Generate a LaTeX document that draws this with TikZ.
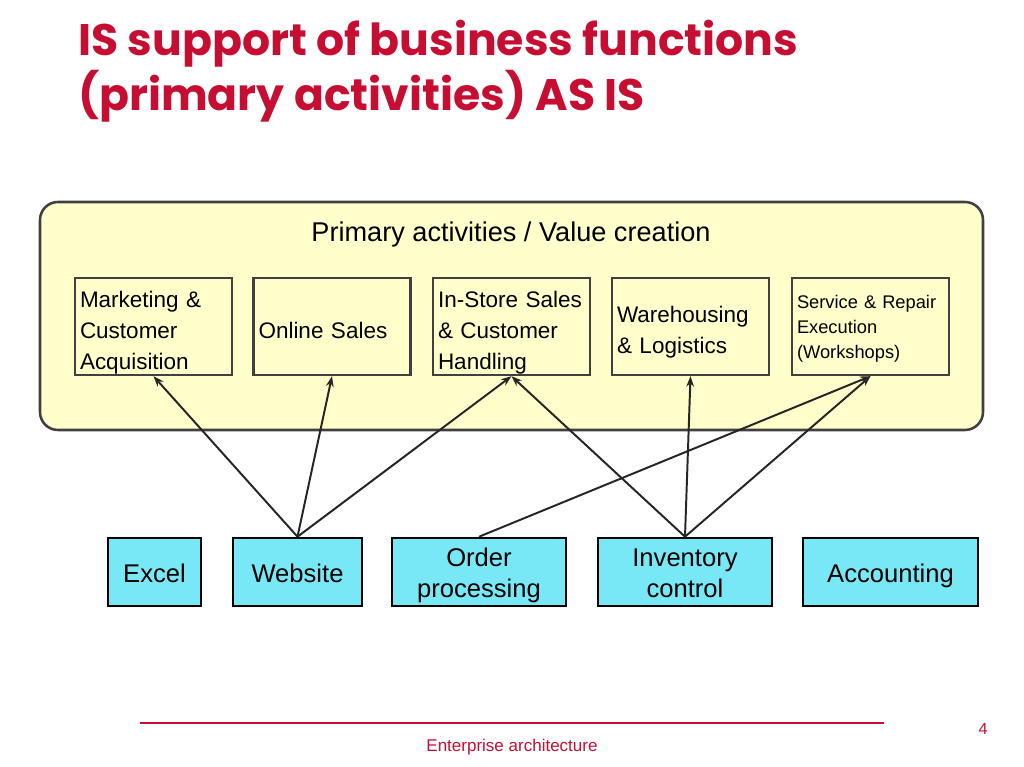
\documentclass[tikz,border=0pt]{standalone}
\usepackage{fontspec}
\setmainfont{Liberation Sans}
\newfontfamily\titlefont{Poppins}
\usepackage{xcolor}
\definecolor{crimson}{RGB}{198, 14, 50}
\definecolor{cream}{RGB}{255, 255, 204}
\definecolor{frame}{RGB}{64, 64, 64}
\definecolor{sky}{RGB}{120, 232, 246}
\usepackage{tikz}
\usetikzlibrary{arrows.meta}

\begin{document}
\begin{tikzpicture}[>={Stealth[length=7.5pt,width=5.5pt]},
    activity/.style={draw=frame, line width=1.7pt, fill=cream, minimum width=3.925cm,
      minimum height=2.425cm, text width=3.675cm, inner xsep=0.125cm, inner ysep=0pt,
      align=left, text height=16.5pt, font=\fontsize{16}{22}\selectfont},
    system/.style={draw=black, line width=1.8pt, fill=sky, minimum height=1.7cm,
      align=center, inner sep=0pt, text depth=0pt, font=\fontsize{18.2}{22}\selectfont},
    link/.style={->, line width=1.4pt, black!85}]
    \useasboundingbox (0,0) rectangle (25.6,19.175);

    % Title
    \node[anchor=north west, align=left, text=crimson, inner sep=0pt,
      font=\titlefont\bfseries\fontsize{31.4}{39}\selectfont] (title) at (1.95,18.675)
      {IS support of business functions\\(primary activities) AS IS};

    % Primary activities
    \draw[frame, fill=cream, line width=1.8pt, rounded corners=0.45cm] (1.0,8.425) rectangle (24.575,14.125);
    \node[font=\fontsize{19.3}{22}\selectfont] (header) at (12.775,13.325) {Primary activities / Value creation};

    \node[activity, text depth=44pt] (marketing) at (3.8375,11.0125) {Marketing \&\\Customer\\Acquisition};
    \node[activity, text depth=0pt] (online) at (8.3,11.0125) {Online Sales};
    \node[activity, text depth=44pt] (instore) at (12.7875,11.0125) {In-Store Sales\\\& Customer\\Handling};
    \node[activity, text depth=22pt] (warehouse) at (17.2625,11.0125) {Warehousing\\\& Logistics};
    \node[activity, text height=10pt, text depth=35.6pt, font=\fontsize{13}{17.8}\selectfont] (service) at (21.7625,11.0125)
      {Service \& Repair\\Execution\\(Workshops)};

    % Information systems
    \node[system, text height=14.4pt, minimum width=2.325cm] (excel) at (3.8625,4.875) {Excel};
    \node[system, text height=14.4pt, minimum width=3.225cm] (website) at (7.4375,4.875) {Website};
    \node[system, text height=36.4pt, minimum width=4.35cm] (order) at (11.975,4.875) {Order\\processing};
    \node[system, text height=36.4pt, minimum width=4.35cm] (inventory) at (17.125,4.875) {Inventory\\control};
    \node[system, text height=14.4pt, minimum width=4.375cm] (accounting) at (22.2625,4.875) {Accounting};

    % Support links
    \draw[link] (website.north) -- (marketing.south);
    \draw[link] (website.north) -- (online.south);
    \draw[link] (website.north) -- (instore.south);
    \draw[link] (order.north) -- (service.south);
    \draw[link] (inventory.north) -- (instore.south);
    \draw[link] (inventory.north) -- (warehouse.south);
    \draw[link] (inventory.north) -- (service.south);

    % Footer
    \coordinate (ruleL) at (3.5,1.1);
    \coordinate (ruleR) at (22.1,1.1);
    \draw[crimson, line width=1.5pt] (ruleL) -- (ruleR);
    \node[text=crimson, font=\fontsize{12.1}{14}\selectfont] (footer) at (12.8,0.5) {Enterprise architecture};
    \node[text=crimson, font=\fontsize{11.5}{14}\selectfont] (page) at (24.575,0.95) {4};
\end{tikzpicture}
\end{document}
